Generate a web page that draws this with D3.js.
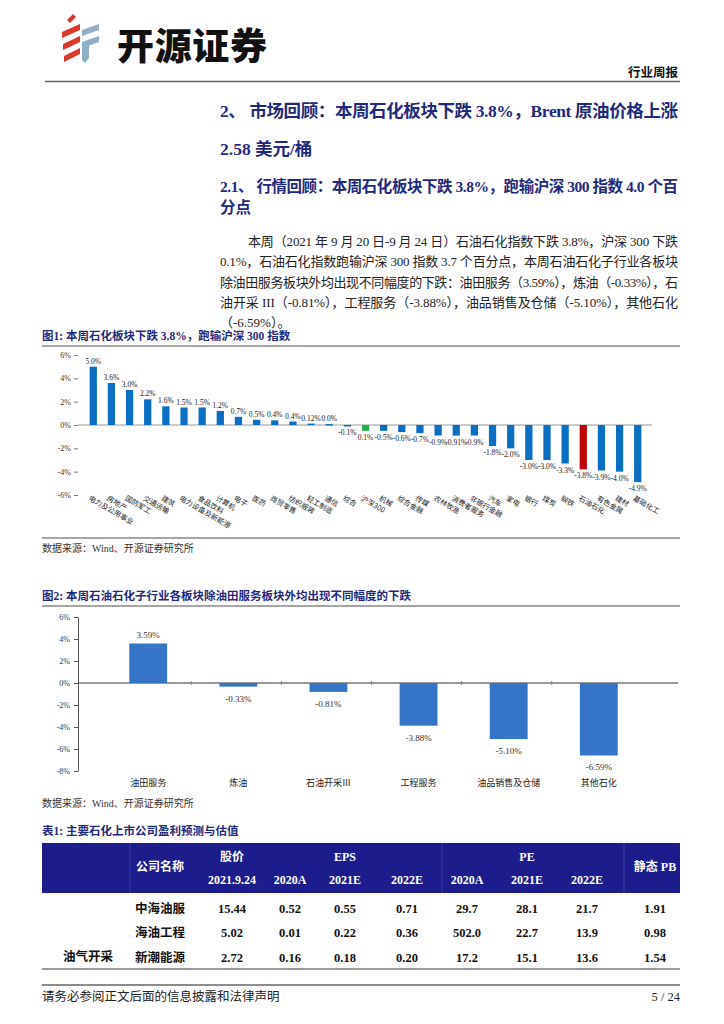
<!DOCTYPE html>
<html>
<head>
<meta charset="utf-8">
<script src="https://cdn.jsdelivr.net/npm/d3@7"></script>
<style>
  body { margin: 0; background: #fff; }
  svg text { font-family: "Liberation Serif", "Noto Sans CJK SC", serif; }
</style>
</head>
<body>
<div id="page"></div>
<script>
// 图1: 中信一级行业周涨跌幅
const industryNames = ["电力及公用事业", "房地产", "国防军工", "交通运输", "建筑", "电力设备及新能源", "食品饮料", "计算机", "电子", "医药", "商贸零售", "纺织服装", "轻工制造", "通信", "综合", "沪深300", "机械", "综合金融", "传媒", "农林牧渔", "消费者服务", "非银行金融", "汽车", "家电", "银行", "煤炭", "钢铁", "石油石化", "有色金属", "建材", "基础化工"];
const industryValues = [5.0, 3.6, 3.0, 2.2, 1.6, 1.5, 1.5, 1.2, 0.7, 0.45, 0.4, 0.3, 0.12, 0.08, -0.1, -0.5, -0.5, -0.6, -0.7, -0.9, -0.91, -0.9, -1.8, -2.0, -3.0, -3.0, -3.3, -3.8, -3.9, -4.0, -4.9];
const industryLabels = ["5.0%", "3.6%", "3.0%", "2.2%", "1.6%", "1.5%", "1.5%", "1.2%", "0.7%", "0.5%", "0.4%", "0.4%", "0.12%", "0.0%", "-0.1%", "0.1%", "-0.5%", "-0.6%", "-0.7%", "-0.9%", "-0.91%", "-0.9%", "-1.8%", "-2.0%", "-3.0%", "-3.0%", "-3.3%", "-3.8%", "-3.9%", "-4.0%", "-4.9%"];
const chart1Ticks = [6, 4, 2, 0, -2, -4, -6];

// 图2: 石油石化子行业
const subNames = ["油田服务", "炼油", "石油开采Ⅲ", "工程服务", "油品销售及仓储", "其他石化"];
const subValues = [3.59, -0.33, -0.81, -3.88, -5.10, -6.59];
const chart2Ticks = [6, 4, 2, 0, -2, -4, -6, -8];

// 表1
const tableGroup = "油气开采";
const tableCompanies = ["中海油服", "海油工程", "新潮能源"];
const tablePrice = ["15.44", "5.02", "2.72"];
const tableEps2020 = ["0.52", "0.01", "0.16"];
const tableEps2021 = ["0.55", "0.22", "0.18"];
const tableEps2022 = ["0.71", "0.36", "0.20"];
const tablePe2020 = ["29.7", "502.0", "17.2"];
const tablePe2021 = ["28.1", "22.7", "15.1"];
const tablePe2022 = ["21.7", "13.9", "13.6"];
const tablePb = ["1.91", "0.98", "1.54"];

const bodyLines = [
  "本周（2021 年 9 月 20 日-9 月 24 日）石油石化指数下跌 3.8%，沪深 300 下跌",
  "0.1%，石油石化指数跑输沪深 300 指数 3.7 个百分点，本周石油石化子行业各板块",
  "除油田服务板块外均出现不同幅度的下跌：油田服务（3.59%），炼油（-0.33%），石",
  "油开采 III（-0.81%），工程服务（-3.88%），油品销售及仓储（-5.10%），其他石化",
  "（-6.59%）。"
];

const navy = "#1f2a7c";
const svg = d3.select("#page").append("svg")
  .attr("width", 724).attr("height", 1024);

// ---- header ----
const logo = svg.append("g");
// red stripes
[24, 36, 48].forEach((y, k) => {
  logo.append("path")
    .attr("d", `M${62 + k},${y + 8} L${80},${y} L${80},${y + 6} L${62 + k},${y + 14} Z`)
    .attr("fill", "#d9392b");
});
logo.append("path").attr("d", "M67,20 L73,14 L76,17 L70,23 Z").attr("fill", "#d9392b");
// blue stripes
[24, 36].forEach(y => {
  logo.append("path")
    .attr("d", `M82,${y + 6} L99,${y} L99,${y + 6} L82,${y + 12} Z`)
    .attr("fill", "#8fb0c4");
});
logo.append("path").attr("d", "M82,48 L89,45 L89,58 L85,63 L82,60 Z").attr("fill", "#8fb0c4");

svg.append("text").attr("x", 117).attr("y", 60)
  .attr("font-size", 37).attr("font-weight", 900).attr("fill", "#111")
  .style("font-family", "'Noto Sans CJK SC'")
  .attr("textLength", 150).text("开源证券");

svg.append("text").attr("x", 678).attr("y", 77).attr("text-anchor", "end")
  .attr("font-size", 12.5).attr("font-weight", "bold").attr("fill", "#111").text("行业周报");
svg.append("line").attr("x1", 45).attr("x2", 680).attr("y1", 81.5).attr("y2", 81.5)
  .attr("stroke", "#666").attr("stroke-width", 1.5);

// ---- headings ----
svg.append("text").attr("x", 220).attr("y", 117).attr("font-size", 17.5).attr("font-weight", "bold")
  .attr("fill", navy).attr("textLength", 458).attr("lengthAdjust", "spacing")
  .text("2、 市场回顾：本周石化板块下跌 3.8%，Brent 原油价格上涨");
svg.append("text").attr("x", 220).attr("y", 155).attr("font-size", 17.5).attr("font-weight", "bold")
  .attr("fill", navy).text("2.58 美元/桶");
svg.append("text").attr("x", 220).attr("y", 192).attr("font-size", 15.5).attr("font-weight", "bold")
  .attr("fill", navy).attr("textLength", 458).attr("lengthAdjust", "spacing")
  .text("2.1、 行情回顾：本周石化板块下跌 3.8%，跑输沪深 300 指数 4.0 个百");
svg.append("text").attr("x", 220).attr("y", 213).attr("font-size", 15.5).attr("font-weight", "bold")
  .attr("fill", navy).text("分点");

bodyLines.forEach((t, i) => {
  const x0 = i === 0 ? 248 : 220;
  const tx = svg.append("text").attr("x", x0).attr("y", 246 + i * 20.3)
    .attr("font-size", 13).attr("fill", "#222").text(t);
  if (i < 4) tx.attr("textLength", 678 - x0).attr("lengthAdjust", "spacing");
});

// ---- figure 1 ----
svg.append("text").attr("x", 42).attr("y", 340).attr("font-size", 11.5).attr("font-weight", "bold")
  .attr("fill", navy).text("图1: 本周石化板块下跌 3.8%，跑输沪深 300 指数");
svg.append("line").attr("x1", 42).attr("x2", 680).attr("y1", 346).attr("y2", 346)
  .attr("stroke", "#888").attr("stroke-width", 1.5);

const x1 = d3.scaleBand().domain(industryNames).range([78.75, 652.25]).padding(0.6);
const y1 = d3.scaleLinear().domain([-6, 6]).range([495, 355]);

const ax1 = svg.append("g").attr("transform", "translate(78,0)")
  .call(d3.axisLeft(y1).tickValues(chart1Ticks).tickFormat(d => d + "%").tickSize(4).tickPadding(3));
ax1.select(".domain").remove();
ax1.selectAll("line").attr("stroke", "#777");
ax1.selectAll("text").attr("font-size", 8).attr("fill", "#333")
  .style("font-family", "'Liberation Serif'");

svg.append("line").attr("x1", 78).attr("x2", 652).attr("y1", y1(0)).attr("y2", y1(0))
  .attr("stroke", "#999").attr("stroke-width", 1);

const barColor1 = n => n === "石油石化" ? "#c00000" : n === "沪深300" ? "#22b14c" : "#0a6fc2";
svg.append("g").selectAll("rect").data(industryNames).join("rect")
  .attr("x", d => x1(d))
  .attr("width", x1.bandwidth())
  .attr("y", (d, i) => y1(Math.max(0, industryValues[i])))
  .attr("height", (d, i) => Math.max(1.5, Math.abs(y1(industryValues[i]) - y1(0))))
  .attr("fill", barColor1);

svg.append("g").selectAll("text").data(industryNames).join("text")
  .attr("x", d => x1(d) + x1.bandwidth() / 2)
  .attr("y", (d, i) => industryValues[i] >= 0 ? y1(industryValues[i]) - 3 : y1(industryValues[i]) + 9)
  .attr("text-anchor", "middle").attr("font-size", 7.5).attr("fill", "#222")
  .text((d, i) => industryLabels[i]);

svg.append("g").selectAll("text").data(industryNames).join("text")
  .attr("transform", d => `translate(${x1(d) + x1.bandwidth() / 2 - 3},${496}) rotate(30)`)
  .attr("dy", "0.6em").attr("font-size", 7.2).attr("fill", "#222")
  .style("font-family", "'Noto Sans CJK SC'")
  .text(d => d);

svg.append("line").attr("x1", 42).attr("x2", 680).attr("y1", 538).attr("y2", 538)
  .attr("stroke", "#888").attr("stroke-width", 1.5);
svg.append("text").attr("x", 42).attr("y", 552).attr("font-size", 10).attr("fill", "#333")
  .text("数据来源：Wind、开源证券研究所");

// ---- figure 2 ----
svg.append("text").attr("x", 42).attr("y", 600).attr("font-size", 11.5).attr("font-weight", "bold")
  .attr("fill", navy).text("图2: 本周石油石化子行业各板块除油田服务板块外均出现不同幅度的下跌");
svg.append("line").attr("x1", 42).attr("x2", 680).attr("y1", 606).attr("y2", 606)
  .attr("stroke", "#888").attr("stroke-width", 1.5);

const x2 = d3.scaleBand().domain(subNames).range([77, 670]).padding(0.58);
const y2 = d3.scaleLinear().domain([-8, 6]).range([771, 617]);

const ax2 = svg.append("g").attr("transform", "translate(78,0)")
  .call(d3.axisLeft(y2).tickValues(chart2Ticks).tickFormat(d => d + "%").tickSize(4).tickSizeOuter(0).tickPadding(4));
ax2.selectAll("line, path").attr("stroke", "#555");
ax2.selectAll("text").attr("font-size", 8).attr("fill", "#333")
  .style("font-family", "'Liberation Serif'");

svg.append("line").attr("x1", 78).attr("x2", 678).attr("y1", y2(0)).attr("y2", y2(0))
  .attr("stroke", "#333").attr("stroke-width", 1);
svg.append("g").selectAll("line").data(subNames.slice(1)).join("line")
  .attr("x1", d => x2(d) - x2.step() * x2.paddingInner() / 2 - 2)
  .attr("x2", d => x2(d) - x2.step() * x2.paddingInner() / 2 - 2)
  .attr("y1", y2(0) - 2).attr("y2", y2(0) + 2).attr("stroke", "#888");

svg.append("g").selectAll("rect").data(subNames).join("rect")
  .attr("x", d => x2(d))
  .attr("width", x2.bandwidth())
  .attr("y", (d, i) => y2(Math.max(0, subValues[i])))
  .attr("height", (d, i) => Math.abs(y2(subValues[i]) - y2(0)))
  .attr("fill", "#3575c7");

svg.append("g").selectAll("text").data(subNames).join("text")
  .attr("x", d => x2(d) + x2.bandwidth() / 2)
  .attr("y", (d, i) => subValues[i] >= 0 ? y2(subValues[i]) - 6 : y2(subValues[i]) + 15)
  .attr("text-anchor", "middle").attr("font-size", 9).attr("fill", "#333")
  .text((d, i) => subValues[i].toFixed(2) + "%");

svg.append("g").selectAll("text").data(subNames).join("text")
  .attr("x", d => x2(d) + x2.bandwidth() / 2).attr("y", 786)
  .attr("text-anchor", "middle").attr("font-size", 9).attr("fill", "#222")
  .style("font-family", "'Noto Sans CJK SC'")
  .text(d => d);

svg.append("text").attr("x", 42).attr("y", 807).attr("font-size", 10).attr("fill", "#333")
  .text("数据来源：Wind、开源证券研究所");

// ---- table 1 ----
svg.append("text").attr("x", 42).attr("y", 835).attr("font-size", 11.5).attr("font-weight", "bold")
  .attr("fill", navy).text("表1: 主要石化上市公司盈利预测与估值");

const tableBlue = "#1c1c8c";
svg.append("rect").attr("x", 42).attr("y", 843).attr("width", 638).attr("height", 50).attr("fill", tableBlue);
[130, 442, 624].forEach(xx => {
  svg.append("line").attr("x1", xx).attr("x2", xx).attr("y1", 843).attr("y2", 893)
    .attr("stroke", "#4a4aa8").attr("stroke-width", 0.8);
});

const colX = [160, 232, 290, 345, 407, 467, 527, 587, 655];
const head = svg.append("g").attr("fill", "#fff").attr("font-weight", "bold").attr("font-size", 12)
  .attr("text-anchor", "middle");
head.append("text").attr("x", colX[0]).attr("y", 871).text("公司名称");
head.append("text").attr("x", colX[1]).attr("y", 861).text("股价");
head.append("text").attr("x", colX[3]).attr("y", 861).text("EPS");
head.append("text").attr("x", colX[6]).attr("y", 861).text("PE");
head.append("text").attr("x", colX[8]).attr("y", 871).text("静态 PB");
["2021.9.24", "2020A", "2021E", "2022E", "2020A", "2021E", "2022E"].forEach((t, i) => {
  head.append("text").attr("x", colX[i + 1]).attr("y", 884).text(t);
});

const tableCols = [tableCompanies, tablePrice, tableEps2020, tableEps2021, tableEps2022,
  tablePe2020, tablePe2021, tablePe2022, tablePb];
const body = svg.append("g").attr("font-weight", "bold").attr("font-size", 12.5)
  .attr("text-anchor", "middle").attr("fill", "#111");
tableCols.forEach((col, c) => {
  body.selectAll(null).data(col).join("text")
    .attr("x", colX[c]).attr("y", (d, r) => 913 + r * 24.3)
    .text(d => d);
});
body.append("text").attr("x", 88).attr("y", 961).text(tableGroup);

svg.append("line").attr("x1", 42).attr("x2", 680).attr("y1", 969).attr("y2", 969)
  .attr("stroke", "#777").attr("stroke-width", 1.5);

// ---- footer ----
svg.append("line").attr("x1", 42).attr("x2", 680).attr("y1", 985).attr("y2", 985)
  .attr("stroke", "#666").attr("stroke-width", 1.5);
svg.append("text").attr("x", 42).attr("y", 1001).attr("font-size", 12.5).attr("fill", "#222")
  .text("请务必参阅正文后面的信息披露和法律声明");
svg.append("text").attr("x", 680).attr("y", 1001).attr("text-anchor", "end").attr("font-size", 12.5)
  .attr("fill", "#222").text("5 / 24");
</script>
</body>
</html>
